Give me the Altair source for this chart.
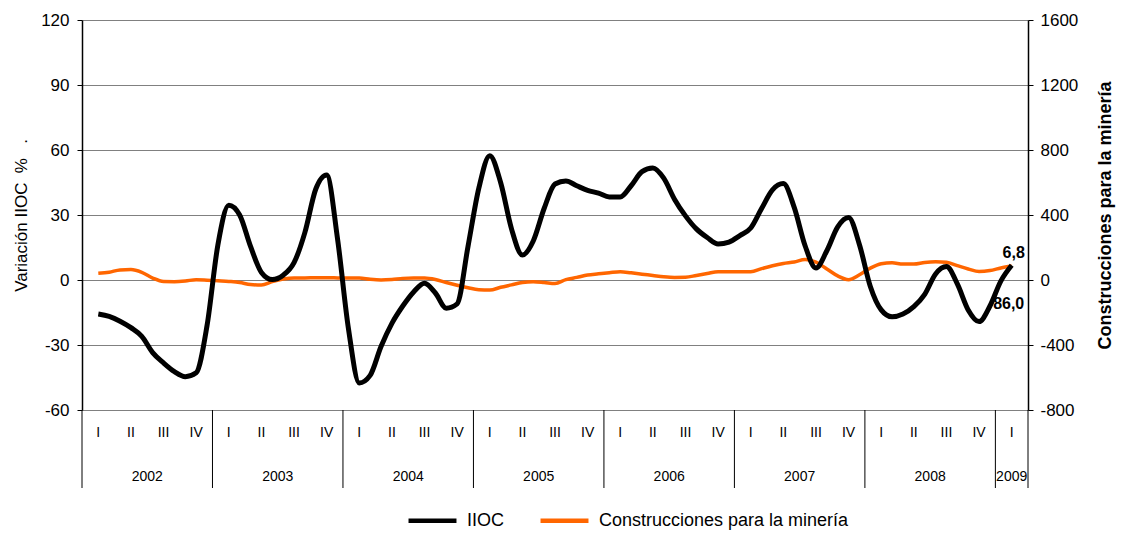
import altair as alt
import pandas as pd

# Monthly series, Feb 2002 .. Feb 2009
first_month = 1  # months after Jan 2002
iioc = [-15.7, -16.8, -19.0, -22.0, -26.0, -33.5, -38.3, -42.3, -44.6, -42.8, -21.0, 16.3,
        34.5, 30.0, 15.5, 3.5, 0.2, 2.2, 8.0, 22.0, 42.0, 48.5, 19.0, -22.3,
        -47.5, -44.0, -30.7, -20.0, -12.0, -5.5, -1.5, -6.0, -13.0, -11.0, 15.5, 42.5,
        57.4, 45.0, 23.6, 11.5, 18.0, 33.0, 44.3, 45.7, 43.5, 41.4, 40.1, 38.3,
        38.3, 43.5, 50.0, 51.7, 47.0, 37.2, 29.6, 23.6, 19.6, 16.6, 17.5, 20.5,
        24.0, 33.0, 41.6, 44.5, 33.5, 15.8, 5.5, 13.5, 24.5, 28.8, 16.3, -3.0,
        -13.8, -17.0, -15.7, -12.3, -6.6, 2.8, 6.2, -1.8, -13.8, -19.2, -12.0, -0.5, 6.8]
mineria = [41, 48, 62, 64, 47, 12, -9, -10, -6, 2, -1, -5,
           -9, -15, -28, -31, -10, 6, 13, 13, 14, 14, 13, 12,
           12, 4, 0, 3, 10, 12, 12, 3, -15, -32, -48, -60,
           -62, -45, -30, -15, -10, -15, -22, 2, 16, 31, 38, 45,
           51, 44, 36, 28, 20, 16, 17, 28, 40, 51, 51, 51,
           51, 70, 88, 102, 111, 126, 110, 68, 25, 2, 32, 73,
           100, 106, 98, 98, 108, 112, 109, 88, 68, 52, 58, 74, 86]
series_names = ["IIOC", "Construcciones para la minería"]
series_colors = ["#000000", "#FF6600"]
years = ["2002", "2003", "2004", "2005", "2006", "2007", "2008", "2009"]
quarters = ["I", "II", "III", "IV"]
n_quarters = 29
label_iioc = "6,8"
label_mineria = "86,0"

left_ticks = [-60, -30, 0, 30, 60, 90, 120]
right_ticks = [-800, -400, 0, 400, 800, 1200, 1600]

total_months = n_quarters * 3
months = [first_month + k + 0.5 for k in range(len(iioc))]

df_i = pd.DataFrame({"m": months, "v": iioc, "serie": series_names[0]})
df_m = pd.DataFrame({"m": months, "v": mineria, "serie": series_names[1]})

qdf = pd.DataFrame({"pos": [q * 3 + 1.5 for q in range(n_quarters)],
                    "lab": [quarters[q % 4] for q in range(n_quarters)]})
ydf = pd.DataFrame({"pos": [(y * 12 + min(y * 12 + 12, total_months)) / 2 for y in range(len(years))],
                    "lab": years})
bdf = pd.DataFrame({"pos": [y * 12 for y in range(len(years))] + [total_months]})

FONT = "Liberation Sans"
HYPHEN = "replace(datum.label, '\u2212', '-')"
xs = alt.Scale(domain=[0, total_months], nice=False, zero=False)
X = alt.X("m:Q", scale=xs, axis=None)
color = alt.Color("serie:N",
                  scale=alt.Scale(domain=series_names, range=series_colors),
                  legend=alt.Legend(title=None, orient="none", legendX=324, legendY=474,
                                    direction="horizontal", symbolType="stroke",
                                    symbolSize=2300, symbolStrokeWidth=4.5,
                                    labelFontSize=18, labelFont=FONT, labelColor="black",
                                    labelLimit=400, columnPadding=26, labelOffset=8))

Y_left = alt.Y("v:Q", scale=alt.Scale(domain=[-60, 120], nice=False, zero=False),
               axis=alt.Axis(values=left_ticks, grid=True, gridColor="#808080", gridWidth=1,
                             domainColor="black", domainWidth=1.5, tickColor="black", tickSize=5,
                             labelFontSize=17, labelFont=FONT, labelColor="black", labelPadding=8,
                             labelExpr=HYPHEN,
                             title="Variación IIOC\u00a0\u00a0%\u00a0\u00a0\u00a0.", titleFontSize=17,
                             titleFont=FONT, titleFontWeight="normal", titleColor="black",
                             titlePadding=10))
Y_right = alt.Y("v:Q", scale=alt.Scale(domain=[-800, 1600], nice=False, zero=False),
                axis=alt.Axis(orient="right", values=right_ticks, grid=False, format="d",
                              labelExpr=HYPHEN,
                              domainColor="black", domainWidth=1.5, tickColor="black", tickSize=5,
                              labelFontSize=17, labelFont=FONT, labelColor="black", labelPadding=7,
                              title="Construcciones para la minería", titleFontSize=18,
                              titleFont=FONT, titleFontWeight="bold", titleColor="black",
                              titleAngle=270, titleBaseline="top", titlePadding=19))

lab_i = alt.Chart(df_i.tail(1)).mark_text(font=FONT, fontSize=16, fontWeight="bold",
                                          color="black", dy=-12, dx=2).encode(
    x=X, y=Y_left, text=alt.value(label_iioc))
line_i = alt.Chart(df_i).mark_line(strokeWidth=5, interpolate="monotone").encode(
    x=X, y=Y_left, color=color)
black = alt.layer(lab_i, line_i)

lab_m = alt.Chart(df_m.tail(1)).mark_text(font=FONT, fontSize=16, fontWeight="bold",
                                          color="black", dy=38, dx=-3).encode(
    x=X, y=Y_right, text=alt.value(label_mineria))
line_m = alt.Chart(df_m).mark_line(strokeWidth=3.5, interpolate="monotone").encode(
    x=X, y=Y_right, color=color)
orange = alt.layer(lab_m, line_m)

rules = alt.Chart(bdf).mark_rule(color="black", strokeWidth=1).encode(
    x=alt.X("pos:Q", scale=xs, axis=None), y=alt.value(390), y2=alt.value(468))
qtext = alt.Chart(qdf).mark_text(font=FONT, fontSize=14, color="black", baseline="middle").encode(
    x=alt.X("pos:Q", scale=xs, axis=None), y=alt.value(413), text="lab:N")
ytext = alt.Chart(ydf).mark_text(font=FONT, fontSize=14, color="black", baseline="middle").encode(
    x=alt.X("pos:Q", scale=xs, axis=None), y=alt.value(457), text="lab:N")

chart = alt.layer(orange, black, rules, qtext, ytext).resolve_scale(
    y="independent"
).properties(
    width=946, height=390,
    autosize=alt.AutoSizeParams(type="none"),
    padding={"left": 74, "top": 12, "right": 88, "bottom": 121},
).configure_view(stroke=None).configure(background="white")

chart.save("out.html", embed_options={"renderer": "svg", "actions": False})
